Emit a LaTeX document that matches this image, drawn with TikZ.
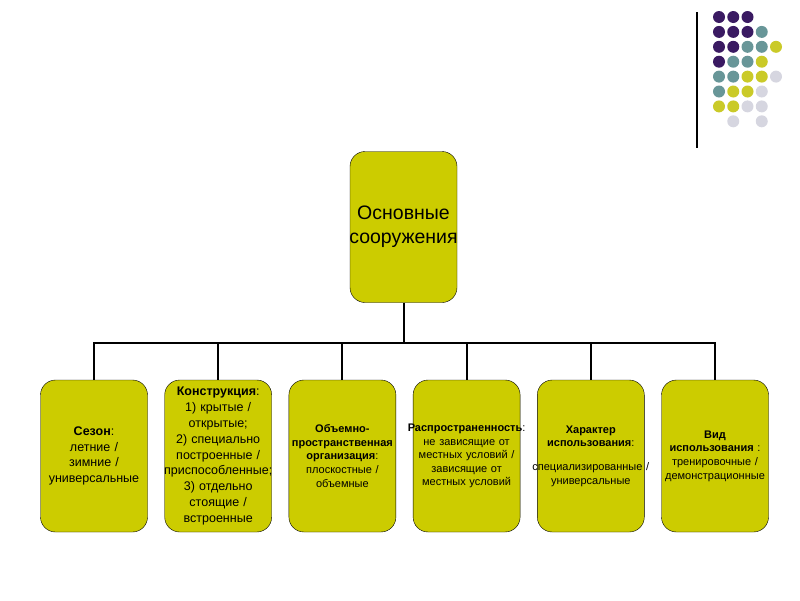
\documentclass[tikz,border=0pt]{standalone}
\usepackage{fontspec}
\setmainfont{Liberation Sans}
\usetikzlibrary{arrows.meta,positioning}

\definecolor{boxfill}{RGB}{204,204,0}
\definecolor{dotP}{RGB}{58,26,98}
\definecolor{dotT}{RGB}{104,150,152}
\definecolor{dotY}{RGB}{202,202,40}
\definecolor{dotG}{RGB}{214,214,224}
\newcommand\wideline[1]{\makebox[0pt]{#1}}

\begin{document}
\begin{tikzpicture}[x=1pt,y=-1pt,>=Latex,
  box/.style={draw=black,fill=boxfill,rounded corners=15pt,
    minimum width=107pt,minimum height=152pt,inner xsep=1pt,
    text width=105pt,align=center},
  big/.style={font=\fontsize{12.5}{15.8}\selectfont},
  small/.style={font=\fontsize{11}{13.6}\selectfont},
  link/.style={line width=2pt}]
  \useasboundingbox (0,0) rectangle (800,600);

  % corner decoration
  \draw[line width=1.5pt] (697,12) -- (697,148);
  \foreach \i/\j/\c in {0/0/dotP,1/0/dotP,2/0/dotP,
      0/1/dotP,1/1/dotP,2/1/dotP,3/1/dotT,
      0/2/dotP,1/2/dotP,2/2/dotT,3/2/dotT,4/2/dotY,
      0/3/dotP,1/3/dotT,2/3/dotT,3/3/dotY,
      0/4/dotT,1/4/dotT,2/4/dotY,3/4/dotY,4/4/dotG,
      0/5/dotT,1/5/dotY,2/5/dotY,3/5/dotG,
      0/6/dotY,1/6/dotY,2/6/dotG,3/6/dotG,
      1/7/dotG,3/7/dotG}
    \fill[\c] ({719+14.25*\i},{17+14.9*\j}) circle[radius=6pt];

  \node[box,minimum height=151pt,font=\fontsize{19.5}{24}\selectfont]
    (main) at (403.5,227) {Основные\\\wideline{сооружения}};

  \node[box,big] (season) at (94,456)
    {\textbf{Сезон}:\\летние /\\зимние /\\универсальные};
  \node[box,big,right=16.8pt of season] (construct)
    {\textbf{Конструкция}:\\1) крытые /\\открытые;\\2) специально\\построенные /\\
     \wideline{приспособленные;}\\3) отдельно\\стоящие /\\встроенные};
  \node[box,small,right=16.8pt of construct] (volume)
    {\textbf{Объемно-}\\\wideline{\textbf{пространственная}}\\\textbf{организация}:\\
     плоскостные /\\объемные\\[8pt]};
  \node[box,small,right=16.8pt of volume] (spread)
    {\wideline{\textbf{Распространенность}:}\\не зависящие от\\
     \wideline{местных условий /}\\зависящие от\\местных условий};
  \node[box,small,right=16.8pt of spread] (usage)
    {\textbf{Характер}\\\textbf{использования}:\\[10pt]
     \wideline{специализированные /}\\универсальные};
  \node[box,small,right=16.8pt of usage] (kind)
    {\textbf{Вид}\\\textbf{использования} :\\тренировочные /\\
     \wideline{демонстрационные}};

  \coordinate (bar) at (403.5,343);
  \draw[link] (main.south) -- (main.south |- bar);
  \draw[link] (season.north) |- (bar) -| (kind.north);
  \foreach \n in {construct,volume,spread,usage}
    \draw[link] (\n.north) -- (\n.north |- bar);
\end{tikzpicture}
\end{document}
